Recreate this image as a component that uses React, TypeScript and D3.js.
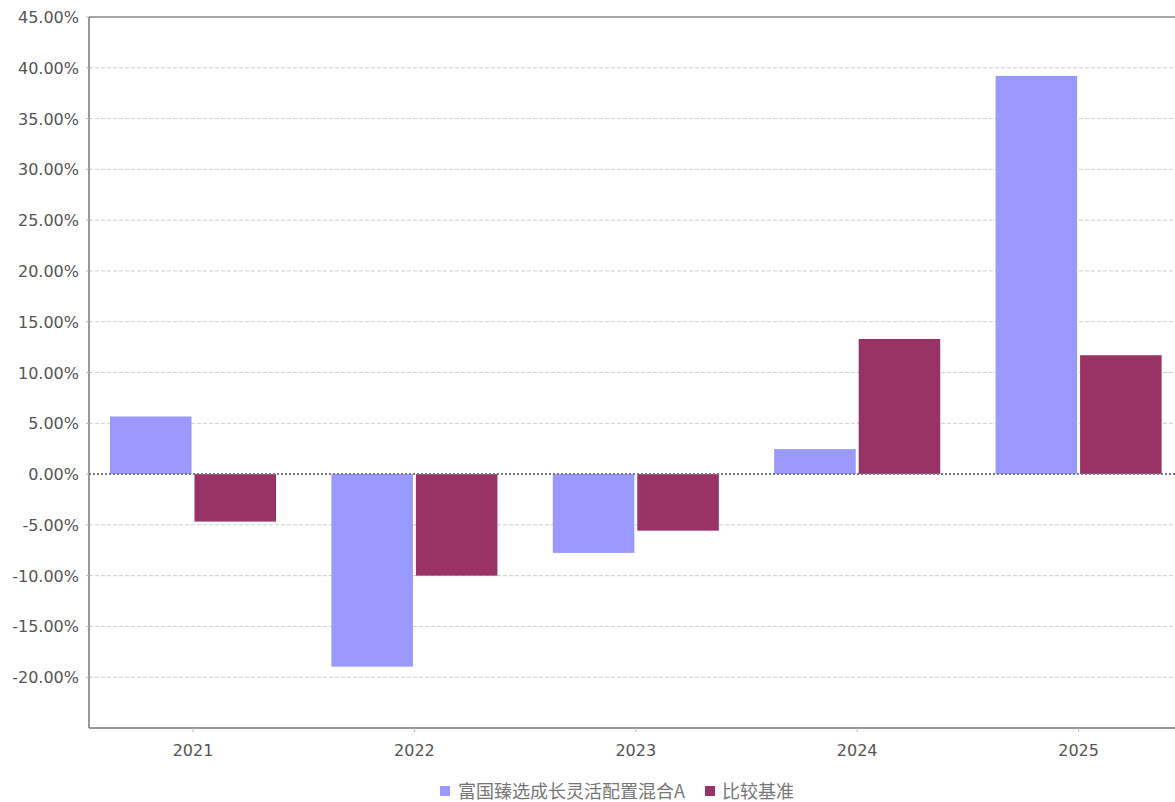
import React from "react";
import * as d3 from "d3";

const years = ["2021", "2022", "2023", "2024", "2025"];
const seriesNames = ["富国臻选成长灵活配置混合A", "比较基准"];
const fundValues = [5.67, -18.96, -7.76, 2.46, 39.2];
const benchValues = [-4.68, -10.0, -5.57, 13.3, 11.7];
const yTicks = [-20, -15, -10, -5, 0, 5, 10, 15, 20, 25, 30, 35, 40, 45];
const colors = ["#9999ff", "#993366"];

const W = 1175;
const H = 802;
const axisX = 89;
const top = 17;
const bottom = 728;

export default function App() {
  const y = d3.scaleLinear().domain([-25, 45]).range([bottom, top]);
  const x0 = d3.scaleBand<string>().domain(years).range([82.3, 1189.3]);
  const bw = x0.bandwidth();
  const x1 = d3
    .scaleBand<number>()
    .domain([0, 1])
    .range([bw * 0.125, bw * 0.875])
    .paddingInner(0.035);
  const data = [fundValues, benchValues];
  const fmt = (v: number) => `${v.toFixed(2)}%`;
  const font = "'DejaVu Sans', Verdana, sans-serif";

  return (
    <svg
      width={W}
      height={H}
      style={{ position: "fixed", left: 0, top: 0, background: "#fff" }}
    >
      {/* grid */}
      {yTicks
        .filter((t) => t !== 0 && t !== 45)
        .map((t) => (
          <line
            key={"g" + t}
            x1={axisX}
            x2={W}
            y1={y(t)}
            y2={y(t)}
            stroke="#cfcfcf"
            strokeWidth={1}
            strokeDasharray="4,2"
          />
        ))}
      {/* top border */}
      <line x1={axisX} x2={W} y1={y(45)} y2={y(45)} stroke="#888" strokeWidth={1.5} />
      {/* bars */}
      {years.map((yr, i) => (
        <g key={yr} transform={`translate(${x0(yr)},0)`}>
          {data.map((vals, s) => {
            const v = vals[i];
            return (
              <rect
                key={s}
                x={x1(s)}
                width={x1.bandwidth()}
                y={y(Math.max(0, v))}
                height={Math.abs(y(v) - y(0))}
                fill={colors[s]}
              />
            );
          })}
        </g>
      ))}
      {/* zero line */}
      <line
        x1={axisX}
        x2={W}
        y1={y(0)}
        y2={y(0)}
        stroke="#77779a"
        strokeWidth={2}
        strokeDasharray="2,2"
      />
      {/* y axis */}
      <line x1={axisX} x2={axisX} y1={top} y2={bottom} stroke="#777" strokeWidth={1.5} />
      {yTicks.map((t) => (
        <g key={"yt" + t}>
          <line x1={axisX - 3} x2={axisX} y1={y(t)} y2={y(t)} stroke="#bbb" />
          <text
            x={79}
            y={y(t) + 6}
            textAnchor="end"
            fontFamily={font}
            fontSize={16}
            fill="#555"
          >
            {fmt(t)}
          </text>
        </g>
      ))}
      {/* x axis */}
      <line x1={axisX} x2={W} y1={bottom} y2={bottom} stroke="#777" strokeWidth={1.5} />
      {years.map((yr) => {
        const cx = (x0(yr) as number) + bw / 2;
        return (
          <g key={"xt" + yr}>
            <line x1={cx} x2={cx} y1={bottom} y2={bottom + 4} stroke="#bbb" />
            <text
              x={cx}
              y={756}
              textAnchor="middle"
              fontFamily={font}
              fontSize={16}
              fill="#555"
            >
              {yr}
            </text>
          </g>
        );
      })}
      {/* legend */}
      <rect x={440} y={786} width={10} height={10} fill={colors[0]} />
      <text
        x={458}
        y={798}
        fontFamily="'Noto Sans CJK SC', sans-serif"
        fontSize={18}
        fill="#777"
      >
        {seriesNames[0]}
      </text>
      <rect x={705} y={786} width={10} height={10} fill={colors[1]} />
      <text
        x={722}
        y={798}
        fontFamily="'Noto Sans CJK SC', sans-serif"
        fontSize={18}
        fill="#777"
      >
        {seriesNames[1]}
      </text>
    </svg>
  );
}
